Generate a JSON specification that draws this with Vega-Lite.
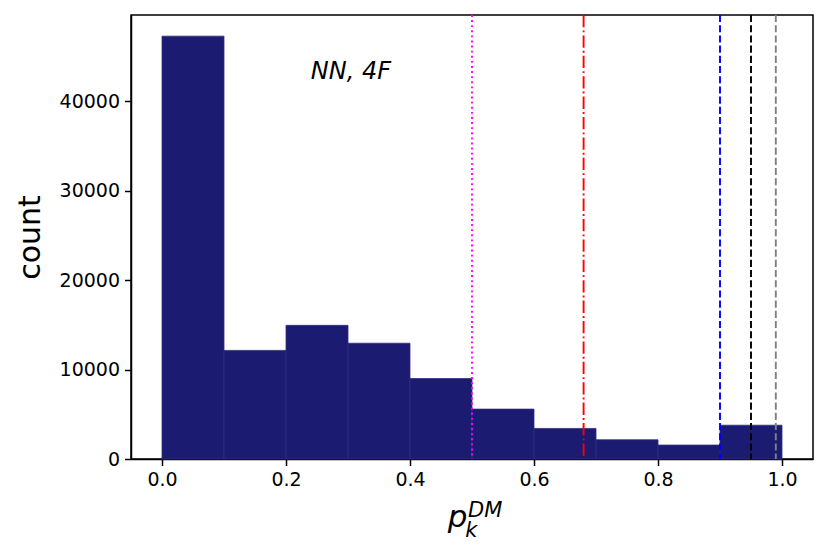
{
  "$schema": "https://vega.github.io/schema/vega-lite/v6.json",
  "autosize": "none",
  "width": 682,
  "height": 444,
  "padding": {"left": 131, "top": 15, "right": 16, "bottom": 95},
  "background": "white",
  "config": {
    "view": {"stroke": "black", "strokeWidth": 1.5},
    "axis": {
      "grid": false,
      "domainColor": "black",
      "domainWidth": 1.5,
      "tickColor": "black",
      "tickWidth": 1.5,
      "labelColor": "black",
      "labelFont": "DejaVu Sans",
      "labelFontSize": 19,
      "tickSize": 6.5,
      "labelPadding": 5,
      "titleFont": "DejaVu Sans",
      "titleFontWeight": "normal",
      "titleColor": "black"
    }
  },
  "datasets": {
    "bins": [
      {"start": 0.0, "end": 0.1, "count": 47300},
      {"start": 0.1, "end": 0.2, "count": 12150},
      {"start": 0.2, "end": 0.3, "count": 14950},
      {"start": 0.3, "end": 0.4, "count": 12950},
      {"start": 0.4, "end": 0.5, "count": 9000},
      {"start": 0.5, "end": 0.6, "count": 5580},
      {"start": 0.6, "end": 0.7, "count": 3420},
      {"start": 0.7, "end": 0.8, "count": 2150},
      {"start": 0.8, "end": 0.9, "count": 1560},
      {"start": 0.9, "end": 1.0, "count": 3780}
    ],
    "lines": [
      {"x": 0.5, "kind": "magenta"},
      {"x": 0.68, "kind": "red"},
      {"x": 0.9, "kind": "blue"},
      {"x": 0.95, "kind": "black"},
      {"x": 0.99, "kind": "gray"}
    ],
    "labels": [
      {"x": 0.24, "y": 42500, "t": "NN, 4F", "size": 24},
      {"x": 0.461, "y": -7600, "t": "p", "size": 31},
      {"x": 0.489, "y": -8700, "t": "k", "size": 21},
      {"x": 0.4935, "y": -6450, "t": "DM", "size": 21}
    ]
  },
  "layer": [
    {
      "data": {"name": "bins"},
      "mark": {"type": "rect", "fill": "#1b1b72", "stroke": "#2e2e80", "strokeWidth": 0.8},
      "encoding": {
        "x": {
          "field": "start", "type": "quantitative",
          "scale": {"domain": [-0.05, 1.05], "nice": false, "zero": false},
          "axis": {"values": [0, 0.2, 0.4, 0.6, 0.8, 1.0], "format": ".1f", "title": null}
        },
        "x2": {"field": "end"},
        "y": {
          "field": "count", "type": "quantitative",
          "scale": {"domain": [0, 49665], "nice": false},
          "axis": {"values": [0, 10000, 20000, 30000, 40000], "format": "d", "title": "count", "titleFontSize": 30, "titlePadding": 14}
        },
        "y2": {"datum": 0}
      }
    },
    {
      "data": {"name": "lines"},
      "transform": [{"filter": "datum.kind == 'magenta'"}],
      "mark": {"type": "rule", "color": "#ff00ff", "strokeWidth": 1.9, "strokeDash": [1.9, 3.2]},
      "encoding": {"x": {"field": "x", "type": "quantitative"}}
    },
    {
      "data": {"name": "lines"},
      "transform": [{"filter": "datum.kind == 'red'"}],
      "mark": {"type": "rule", "color": "#ff0000", "strokeWidth": 1.9, "strokeDash": [12.3, 3.1, 1.9, 3.1]},
      "encoding": {"x": {"field": "x", "type": "quantitative"}}
    },
    {
      "data": {"name": "lines"},
      "transform": [{"filter": "datum.kind == 'blue'"}],
      "mark": {"type": "rule", "color": "#0000ff", "strokeWidth": 1.9, "strokeDash": [7.1, 3.1]},
      "encoding": {"x": {"field": "x", "type": "quantitative"}}
    },
    {
      "data": {"name": "lines"},
      "transform": [{"filter": "datum.kind == 'black'"}],
      "mark": {"type": "rule", "color": "#000000", "strokeWidth": 1.9, "strokeDash": [7.1, 3.1]},
      "encoding": {"x": {"field": "x", "type": "quantitative"}}
    },
    {
      "data": {"name": "lines"},
      "transform": [{"filter": "datum.kind == 'gray'"}],
      "mark": {"type": "rule", "color": "#808080", "strokeWidth": 1.9, "strokeDash": [7.1, 3.1]},
      "encoding": {"x": {"field": "x", "type": "quantitative"}}
    },
    {
      "data": {"name": "labels"},
      "mark": {"type": "text", "font": "DejaVu Sans", "fontStyle": "italic", "baseline": "alphabetic", "align": "left", "color": "black", "clip": false},
      "encoding": {
        "x": {"field": "x", "type": "quantitative"},
        "y": {"field": "y", "type": "quantitative"},
        "text": {"field": "t"},
        "size": {"field": "size", "type": "quantitative", "scale": null}
      }
    }
  ]
}
